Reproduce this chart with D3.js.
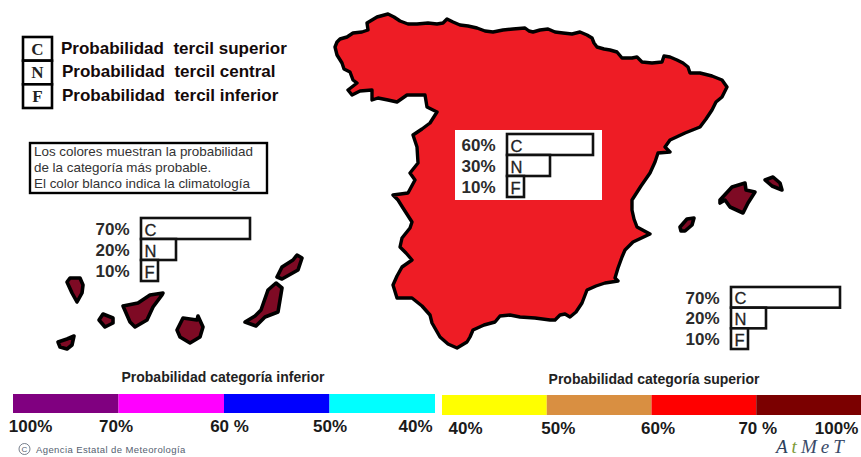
<!DOCTYPE html>
<html>
<head>
<meta charset="utf-8">
<script src="https://cdn.jsdelivr.net/npm/d3@7"></script>
<style>
  html, body { margin: 0; background: #fff; }
  svg { display: block; font-family: "Liberation Sans", Arial, sans-serif; }
</style>
</head>
<body>
<svg id="chart" width="861" height="457"></svg>
<script>
// categories and values
const terciles = ['C', 'N', 'F'];
const tercilNames = ['Probabilidad  tercil superior', 'Probabilidad  tercil central', 'Probabilidad  tercil inferior'];
const noteLines = ['Los colores muestran la probabilidad', 'de la categoría más probable.', 'El color blanco indica la climatología'];

const peninsulaProbs = [60, 30, 10];
const canariasProbs = [70, 20, 10];
const balearesProbs = [70, 20, 10];

const inferiorLabels = ['100%', '70%', '60 %', '50%', '40%'];
const inferiorColors = ['#800080', '#ff00ff', '#0000ff', '#00ffff'];
const superiorLabels = ['40%', '50%', '60%', '70 %', '100%'];
const superiorColors = ['#ffff00', '#d98f41', '#ff0000', '#7b0000'];

// outlines, traced in the map's own grid
const peninsula = [[335,47],[337,42],[340,39],[347,37],[353,33],[362,32],[368,30],[367,23],[372,20],[377,17],[388,14],[394,17],[400,21],[408,24],[417,24],[428,23],[437,24],[443,23],[447,19],[453,22],[460,25],[468,26],[477,28],[485,31],[493,32],[503,30],[513,29],[525,28],[529,31],[533,32],[540,30],[548,29],[555,32],[563,33],[572,34],[580,32],[587,35],[592,38],[594,43],[597,47],[604,49],[610,50],[617,52],[622,58],[632,58],[637,57],[642,62],[652,63],[662,62],[664,56],[670,57],[677,60],[683,63],[688,67],[690,73],[700,73],[712,76],[722,80],[727,87],[722,97],[716,102],[712,110],[706,119],[700,127],[685,133],[670,140],[665,147],[670,152],[658,153],[655,162],[650,173],[641,186],[632,200],[632,210],[634,219],[637,227],[650,234],[633,242],[625,250],[622,257],[618,268],[615,278],[618,281],[605,283],[596,286],[587,290],[582,303],[576,312],[570,317],[565,314],[560,315],[555,320],[550,320],[535,318],[520,317],[510,315],[500,316],[495,322],[484,325],[473,330],[470,337],[467,342],[457,348],[448,344],[440,337],[436,330],[432,323],[430,315],[422,306],[412,298],[404,298],[397,298],[393,285],[397,276],[402,267],[412,260],[406,253],[400,247],[402,238],[410,228],[412,222],[403,208],[398,200],[393,195],[408,193],[415,180],[410,173],[414,168],[418,163],[417,147],[413,135],[422,129],[430,123],[437,112],[427,107],[425,95],[415,95],[407,95],[397,102],[388,100],[378,98],[372,100],[372,90],[360,91],[352,95],[348,90],[357,83],[353,80],[350,72],[344,69],[342,63],[337,55],[335,47]];
const mallorca = [[720,200],[732,187],[745,183],[746,190],[755,192],[748,203],[743,213],[730,207],[725,200],[720,203],[720,200]];
const menorca = [[765,180],[773,177],[780,183],[782,190],[772,186],[765,180]];
const ibiza = [[680,227],[687,219],[694,218],[692,225],[685,231],[681,231],[680,227]];
const laPalma = [[67,282],[70,278],[80,278],[83,285],[82,293],[77,302],[72,293],[67,282]];
const gomera = [[99,320],[103,314],[113,318],[113,323],[105,327],[99,320]];
const hierro = [[58,342],[67,339],[74,336],[72,345],[67,349],[60,347],[58,342]];
const tenerife = [[123,306],[138,303],[150,295],[163,293],[162,295],[153,307],[147,320],[135,327],[130,322],[123,306]];
const granCanaria = [[177,330],[183,318],[197,320],[198,316],[203,327],[200,337],[190,343],[180,337],[177,330]];
const fuerteventura = [[245,322],[255,316],[261,310],[268,290],[276,283],[282,288],[278,312],[265,317],[256,326],[245,322]];
const lanzarote = [[277,277],[282,267],[293,260],[297,255],[302,258],[298,270],[282,279],[277,277]];

const svg = d3.select('#chart');
const geoPath = d3.geoPath(d3.geoIdentity());
const poly = (coords) => ({ type: 'Polygon', coordinates: [coords] });

// map
svg.selectAll('.region')
  .data([peninsula].map(poly))
  .enter()
  .append('path')
  .attr('class', 'region')
  .attr('d', geoPath)
  .attr('fill', '#ee1c25')
  .attr('stroke', '#000')
  .attr('stroke-width', 3.4)
  .attr('stroke-linejoin', 'round');

svg.selectAll('.island')
  .data([mallorca, menorca, ibiza, laPalma, gomera, hierro, tenerife, granCanaria, fuerteventura, lanzarote].map(poly))
  .enter()
  .append('path')
  .attr('class', 'island')
  .attr('d', geoPath)
  .attr('fill', '#7e0a24')
  .attr('stroke', '#000')
  .attr('stroke-width', 3.6)
  .attr('stroke-linejoin', 'round');

// white backing for the mainland panel
svg.append('rect')
  .attr('x', 455).attr('y', 130)
  .attr('width', 147).attr('height', 70)
  .attr('fill', '#fff');

// bar lengths in the source are not quite proportional
const barLength = d3.scaleLinear()
  .domain([0, 10, 20, 30, 60, 70])
  .range([0, 17, 35, 43, 86, 109]);

function drawPanel(values, x0, top, bottom) {
  const y = d3.scaleBand().domain(terciles).range([top, bottom]);
  const g = svg.append('g').attr('class', 'panel');
  const rows = g.selectAll('g')
    .data(terciles)
    .enter()
    .append('g');

  rows.append('rect')
    .attr('x', x0)
    .attr('y', (d) => y(d))
    .attr('width', (d, i) => barLength(values[i]))
    .attr('height', y.bandwidth())
    .attr('fill', '#fff')
    .attr('stroke', '#111')
    .attr('stroke-width', 2.6);

  rows.append('text')
    .attr('x', x0 + 3.5)
    .attr('y', (d) => y(d) + y.bandwidth() - 3.5)
    .attr('font-size', 16.5)
    .attr('stroke', '#222')
    .attr('stroke-width', 0.3)
    .attr('fill', '#222')
    .text((d) => d);

  rows.append('text')
    .attr('x', x0 - 11.5)
    .attr('y', (d) => y(d) + y.bandwidth() - 4)
    .attr('text-anchor', 'end')
    .attr('font-size', 17)
    .attr('font-weight', 'bold')
    .attr('fill', '#2b2b2b')
    .text((d, i) => values[i] + '%');
}

drawPanel(peninsulaProbs, 507, 134, 197);
drawPanel(canariasProbs, 141, 218, 281);
drawPanel(balearesProbs, 731, 287, 349);

// tercile legend
const legendY = d3.scaleBand().domain(terciles).range([37, 108]);
const legend = svg.append('g').attr('class', 'legend');
legend.selectAll('rect')
  .data(terciles)
  .enter()
  .append('rect')
  .attr('x', 23)
  .attr('y', (d) => legendY(d))
  .attr('width', 29)
  .attr('height', legendY.bandwidth())
  .attr('fill', '#fff')
  .attr('stroke', '#000')
  .attr('stroke-width', 2.6);

legend.selectAll('.letter')
  .data(terciles)
  .enter()
  .append('text')
  .attr('class', 'letter')
  .attr('x', 37.5)
  .attr('y', (d) => legendY(d) + 17.5)
  .attr('text-anchor', 'middle')
  .attr('font-family', '"Liberation Serif", serif')
  .attr('font-weight', 'bold')
  .attr('font-size', 17)
  .attr('fill', '#222')
  .text((d) => d);

legend.selectAll('.name')
  .data(tercilNames)
  .enter()
  .append('text')
  .attr('class', 'name')
  .attr('x', (d, i) => (i === 0 ? 61 : 62))
  .attr('y', (d, i) => 53.5 + i * 23.5)
  .attr('font-size', 17)
  .attr('font-weight', 'bold')
  .style('white-space', 'pre')
  .attr('fill', '#140a0a')
  .text((d) => d);

// note box
svg.append('rect')
  .attr('x', 30).attr('y', 143)
  .attr('width', 237).attr('height', 50)
  .attr('fill', '#fff')
  .attr('stroke', '#000')
  .attr('stroke-width', 2.4);

svg.selectAll('.note')
  .data(noteLines)
  .enter()
  .append('text')
  .attr('class', 'note')
  .attr('x', 34)
  .attr('y', (d, i) => 156 + i * 16)
  .attr('font-size', 13.4)
  .attr('fill', '#333')
  .text((d) => d);

// colour ramps
function drawRamp(labels, colors, x0, x1, top, h, labelShift, labelY, title, titleX, titleY) {
  const x = d3.scalePoint().domain(labels).range([x0, x1]);
  const g = svg.append('g').attr('class', 'ramp');

  g.selectAll('rect')
    .data(colors)
    .enter()
    .append('rect')
    .attr('x', (d, i) => x(labels[i]))
    .attr('y', top)
    .attr('width', x.step())
    .attr('height', h)
    .attr('fill', (d) => d);

  const axis = g.append('g')
    .attr('transform', `translate(0, ${labelY})`)
    .call(d3.axisBottom(x).tickSize(0).tickPadding(0));
  axis.select('.domain').remove();
  axis.selectAll('text')
    .attr('dx', (d, i) => labelShift[i])
    .attr('dy', 0)
    .attr('y', 0)
    .attr('fill', '#1a1a1a')
    .attr('font-family', '"Liberation Sans", Arial, sans-serif')
    .attr('font-size', 17)
    .attr('font-weight', 'bold');

  g.append('text')
    .attr('x', titleX)
    .attr('y', titleY)
    .attr('text-anchor', 'middle')
    .attr('font-size', 14)
    .attr('font-weight', 'bold')
    .attr('fill', '#222')
    .text(title);
}

drawRamp(inferiorLabels, inferiorColors, 13, 435, 394, 19, [17, -3, 5, 0, -20], 432, 'Probabilidad categoría inferior', 223, 382);
drawRamp(superiorLabels, superiorColors, 442, 861, 395, 20, [23, 11, 6, 1, -25], 434, 'Probabilidad categoría superior', 654, 384);

// footer
svg.append('circle')
  .attr('cx', 24.5).attr('cy', 449)
  .attr('r', 5.5)
  .attr('fill', 'none')
  .attr('stroke', '#556070')
  .attr('stroke-width', 0.8);
svg.append('text')
  .attr('x', 24.5).attr('y', 452)
  .attr('text-anchor', 'middle')
  .attr('font-size', 8)
  .attr('fill', '#556070')
  .text('C');
svg.append('text')
  .attr('x', 36).attr('y', 453)
  .attr('font-size', 9.5)
  .attr('letter-spacing', 0.4)
  .attr('fill', '#556070')
  .text('Agencia Estatal de Meteorología');

const logo = svg.append('text')
  .attr('x', 776).attr('y', 453)
  .attr('font-family', '"Liberation Serif", serif')
  .attr('font-style', 'italic')
  .attr('font-size', 19)
  .attr('letter-spacing', 4);
logo.append('tspan').attr('fill', '#2f3f5c').text('A');
logo.append('tspan').attr('fill', '#7d9a3a').text('t');
logo.append('tspan').attr('fill', '#3a4a68').text('MeT');
</script>
</body>
</html>
